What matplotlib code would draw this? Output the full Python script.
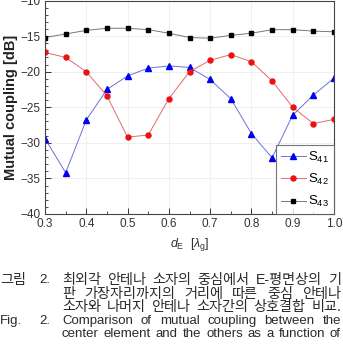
import matplotlib
matplotlib.use("Agg")
import matplotlib.pyplot as plt
from matplotlib.ticker import MultipleLocator

plt.rcParams['font.family'] = ['Liberation Sans', 'Noto Sans CJK KR', 'DejaVu Sans']
plt.rcParams['mathtext.fontset'] = 'custom'
plt.rcParams['mathtext.rm'] = 'Liberation Sans'
plt.rcParams['mathtext.it'] = 'Liberation Sans:italic'

# data
d = [0.3, 0.35, 0.4, 0.45, 0.5, 0.55, 0.6, 0.65, 0.7, 0.75, 0.8, 0.85, 0.9, 0.95, 1.0]
s41 = [-29.4, -34.2, -26.8, -22.5, -20.6, -19.5, -19.2, -19.4, -21.1, -23.8, -28.7, -32.1, -26.1, -23.3, -20.9]
s42 = [-17.3, -18.0, -20.0, -23.4, -29.2, -28.9, -23.8, -20.0, -18.4, -17.6, -18.6, -21.3, -25.0, -27.3, -26.7]
s43 = [-15.2, -14.7, -14.2, -13.9, -13.9, -14.1, -14.6, -15.2, -15.3, -14.9, -14.6, -14.1, -14.1, -14.3, -14.4]
labels = ["S$_{41}$", "S$_{42}$", "S$_{43}$"]

caption_kr = ["최외각 안테나 소자의 중심에서 E-평면상의 기",
              "판 가장자리까지의 거리에 따른 중심 안테나",
              "소자와 나머지 안테나 소자간의 상호결합 비교."]
caption_en = ["Comparison of mutual coupling between the",
              "center element and the others as a function of"]

fig = plt.figure(figsize=(3.43, 3.59), dpi=100)
ax = fig.add_axes([45/343, 1 - 214/359, 289/343, 213.5/359])

ax.plot(d, s41, color='#7070d8', lw=0.7, marker='^', ms=4.2, mfc='#0000ee', mec='#0000ee', label=labels[0])
ax.plot(d, s42, color='#e46a6a', lw=0.7, marker='o', ms=3.6, mfc='#ee1111', mec='#ee1111', label=labels[1])
ax.plot(d, s43, color='#777777', lw=0.7, marker='s', ms=3.2, mfc='black', mec='black', label=labels[2])

ax.set_xlim(0.3, 1.0)
ax.set_ylim(-40, -10)
ax.xaxis.set_minor_locator(MultipleLocator(0.05))
ax.yaxis.set_major_locator(MultipleLocator(5))
ax.yaxis.set_minor_locator(MultipleLocator(1))
ax.set_xticks([0.3, 0.4, 0.5, 0.6, 0.7, 0.8, 0.9, 1.0])
ax.set_xticklabels(['0.3', '0.4', '0.5', '0.6', '0.7', '0.8', '0.9', '1.0'])
ax.tick_params(which='both', direction='in', labelsize=8.5, colors='#333333', pad=3)
ax.tick_params(which='major', length=4, width=0.7)
ax.tick_params(which='minor', length=2, width=0.6)
ax.grid(True, which='major', color='#eeeeee', lw=0.6)
for sp in ax.spines.values():
    sp.set_color('#444444')
    sp.set_linewidth(0.8)

ax.set_ylabel('Mutual coupling [dB]', fontsize=10.5, fontweight='bold', color='#222222', labelpad=2)
ax.set_xlabel(r'$d_{\mathrm{E}}$  [$\lambda_{\mathrm{g}}$]', fontsize=9, color='#333333', labelpad=4)

leg = ax.legend(loc='lower right', fontsize=9.5, frameon=True, fancybox=False, handlelength=1.9,
                borderaxespad=0, labelspacing=0.55, borderpad=0.35, handletextpad=0.2)
leg.get_frame().set_edgecolor('#555555')
leg.get_frame().set_linewidth(0.8)

# caption with justified lines
def justify(text, x0, x1, y, size=9.5):
    words = text.split()
    r = fig.canvas.get_renderer()
    objs = [fig.text(0, y, w, fontsize=size, color='#2a2a2a', va='center') for w in words]
    widths = [o.get_window_extent(r).width for o in objs]
    W = fig.bbox.width
    total = (x1 - x0) * W / 343
    gap = (total - sum(widths)) / max(len(words) - 1, 1)
    x = x0 * W / 343
    for o, w in zip(objs, widths):
        o.set_x(x / W)
        x += w + gap

ys = [280, 294, 307.5, 321, 334]
sizes = [10.2, 10.2, 10.2, 9.5, 9.5]
fig.text(0 / 343, 1 - ys[0] / 359, '그림', fontsize=10.2, color='#2a2a2a', va='center')
fig.text(39 / 343, 1 - ys[0] / 359, '2.', fontsize=9.5, color='#2a2a2a', va='center')
fig.text(0 / 343, 1 - ys[3] / 359, 'Fig.', fontsize=9.5, color='#2a2a2a', va='center')
fig.text(39 / 343, 1 - ys[3] / 359, '2.', fontsize=9.5, color='#2a2a2a', va='center')
lines = caption_kr + caption_en
for i, t in enumerate(lines):
    justify(t, 62, 341, 1 - ys[i] / 359, sizes[i])

fig.savefig('out.png', dpi=100)
